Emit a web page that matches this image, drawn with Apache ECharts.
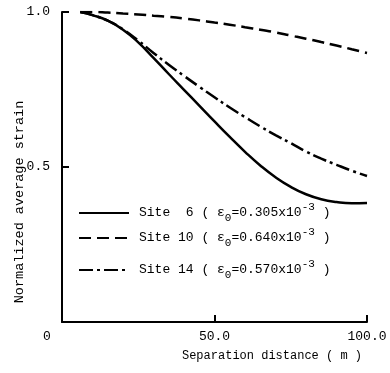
<!DOCTYPE html>
<html>
<head>
<meta charset="utf-8">
<script src="https://cdn.jsdelivr.net/npm/echarts@6.0.0/dist/echarts.min.js"></script>
<style>
  html, body { margin: 0; padding: 0; background: #fff; }
  #chart { width: 390px; height: 373px; }
</style>
</head>
<body>
<div id="chart"></div>
<script>
// separation distance (m)
const distance = [6, 10, 15, 20, 25, 30, 35, 40, 45, 50, 55, 60, 65, 70, 75, 80, 85, 90, 95, 100];
// normalized average strain per site
const site6 = [1.0, 0.99, 0.972, 0.943, 0.902, 0.852, 0.8, 0.749, 0.698, 0.647, 0.597, 0.549, 0.505, 0.467, 0.436, 0.412, 0.396, 0.387, 0.383, 0.384];
const site10 = [1.0, 1.0, 0.998, 0.995, 0.992, 0.988, 0.984, 0.979, 0.973, 0.966, 0.959, 0.951, 0.943, 0.934, 0.924, 0.914, 0.903, 0.892, 0.88, 0.868];
const site14 = [1.0, 0.99, 0.972, 0.944, 0.908, 0.868, 0.83, 0.794, 0.759, 0.725, 0.692, 0.661, 0.631, 0.603, 0.577, 0.55, 0.527, 0.507, 0.488, 0.471];

const siteNames = ["Site  6", "Site 10", "Site 14"];
const eps0 = ["0.305", "0.640", "0.570"];
const xTickLabels = { 0: "0", 50: "50.0", 100: "100.0" };
const yTickLabels = { 0: "", 0.5: "0.5", 1: "1.0" };

const font = "Liberation Mono";
const ink = "#000";

const chart = echarts.init(document.getElementById("chart"), null, { renderer: "canvas" });

const pairs = (ys) => distance.map((x, i) => [x, ys[i]]);

const lineSeries = (name, ys, type) => ({
  type: "line",
  name,
  data: pairs(ys),
  smooth: true,
  symbol: "none",
  showSymbol: false,
  lineStyle: { color: ink, width: 2.5, type },
  itemStyle: { color: ink },
  animation: false,
});

const legendRows = [202, 227, 259];

function legendFor(i) {
  return {
    data: [siteNames[i]],
    left: 78,
    top: legendRows[i],
    padding: 0,
    itemWidth: 50,
    itemHeight: 14,
    selectedMode: false,
    itemStyle: { opacity: 0 },
    formatter: () =>
      `{t|${siteNames[i]} ( ε}{sub|0}{t|=${eps0[i]}x10}{sup|-3}{t| )}`,
    textStyle: {
      color: ink,
      fontFamily: font,
      padding: [0, 0, 0, 5],
      rich: {
        t: { fontFamily: font, fontSize: 13, color: ink, lineHeight: 22, verticalAlign: "middle" },
        sub: { fontFamily: font, fontSize: 11, color: ink, lineHeight: 11, verticalAlign: "bottom" },
        sup: { fontFamily: font, fontSize: 11, color: ink, lineHeight: 11, verticalAlign: "top" },
      },
    },
  };
}

const axisCommon = {
  axisLine: { show: true, onZero: false, lineStyle: { color: ink, width: 2 } },
  axisTick: { show: true, inside: true, length: 7, lineStyle: { color: ink, width: 2 } },
  splitLine: { show: false },
};

chart.setOption({
  animation: false,
  backgroundColor: "#fff",
  grid: { left: 62, right: 23, top: 12, bottom: 51, outerBoundsMode: "none" },
  xAxis: {
    type: "value",
    min: 0,
    max: 100,
    interval: 50,
    ...axisCommon,
    axisLabel: {
      color: ink,
      fontFamily: font,
      fontSize: 13,
      margin: 8,
      formatter: (v) => (v === 0 ? `{o|${xTickLabels[v]}}` : xTickLabels[v]),
      rich: { o: { fontFamily: font, fontSize: 13, color: ink, padding: [0, 30, 0, 0] } },
    },
    name: "Separation distance ( m )",
    nameLocation: "end",
    nameGap: -5,
    nameMoveOverlap: false,
    nameTextStyle: {
      color: ink,
      fontFamily: font,
      fontSize: 12,
      align: "right",
      verticalAlign: "top",
      padding: [28, 0, 0, 0],
    },
  },
  yAxis: {
    type: "value",
    min: 0,
    max: 1,
    interval: 0.5,
    ...axisCommon,
    axisLabel: {
      color: ink,
      fontFamily: font,
      fontSize: 13,
      margin: 12,
      formatter: (v) => yTickLabels[v] ?? "",
    },
    name: "Normalized average strain",
    nameLocation: "middle",
    nameGap: 36,
    nameMoveOverlap: false,
    nameTextStyle: {
      color: ink,
      fontFamily: font,
      fontSize: 13.5,
      padding: [0, 70, 0, 0],
    },
  },
  legend: [legendFor(0), legendFor(1), legendFor(2)],
  series: [
    lineSeries(siteNames[0], site6, "solid"),
    lineSeries(siteNames[1], site10, [12, 6]),
    lineSeries(siteNames[2], site14, [14, 4, 3, 4]),
  ],
});
</script>
</body>
</html>
